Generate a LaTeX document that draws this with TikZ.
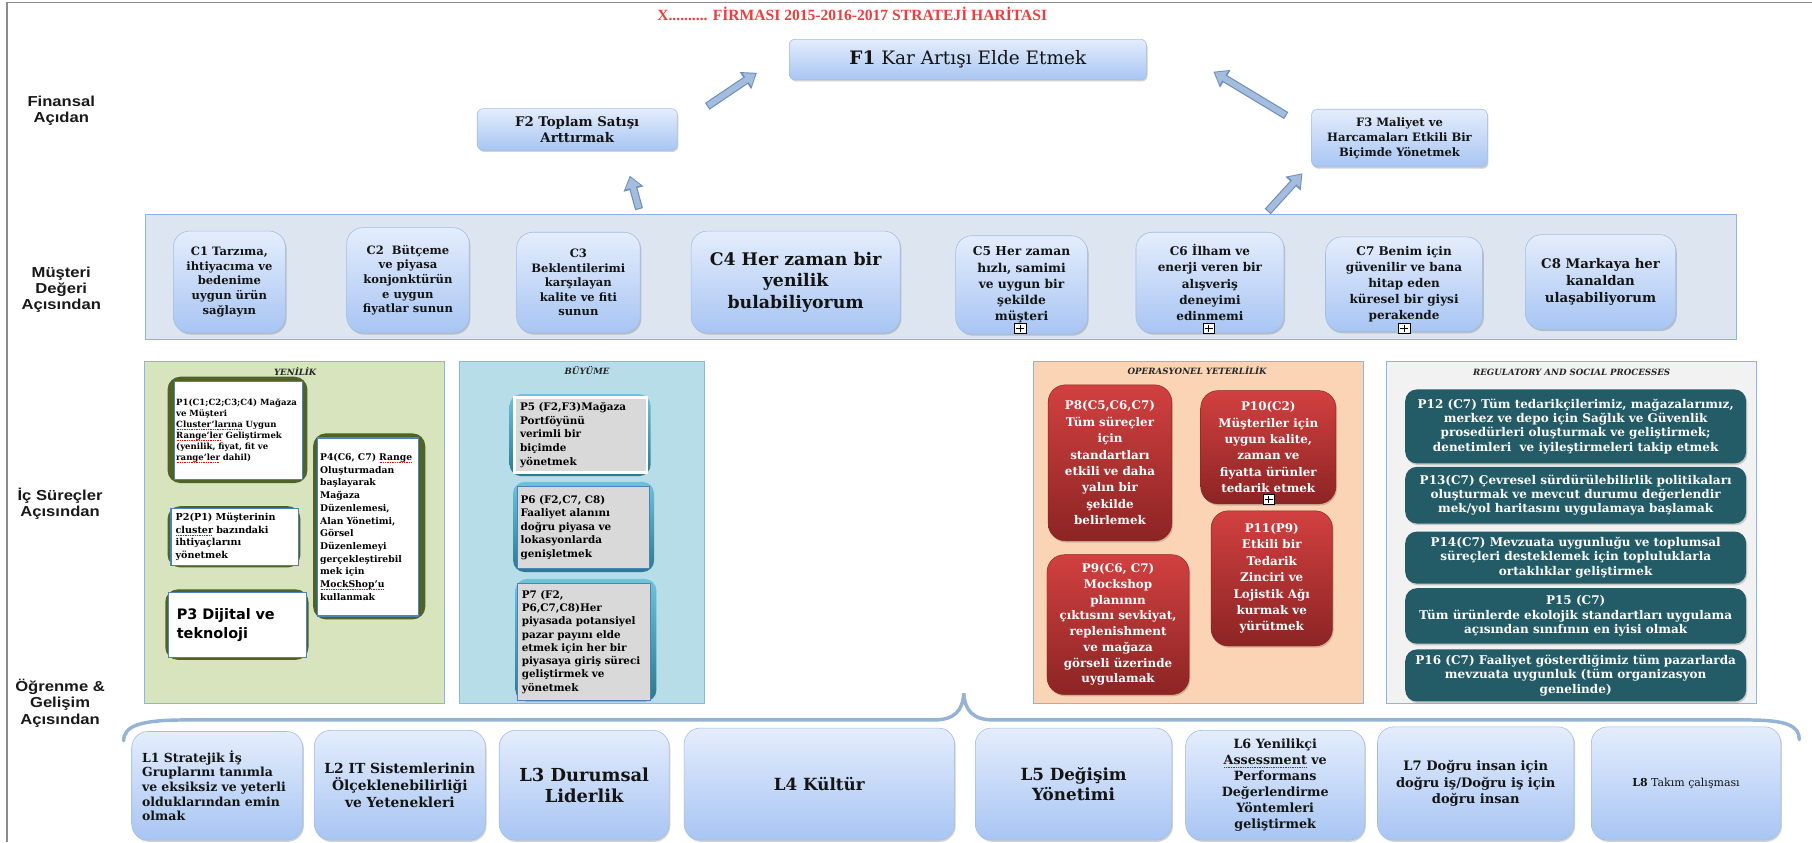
\documentclass[tikz,border=0pt]{standalone}
\usepackage{fontspec}
\setmainfont{DejaVu Serif}
\newfontfamily\labelfont[FakeStretch=1.15]{Liberation Sans}
\newfontfamily\headfont{Liberation Serif}
\newfontfamily\digifont{DejaVu Sans}
\usetikzlibrary{arrows.meta,shadows}

\newcommand\fs[2]{\fontsize{#1}{#2}\selectfont}
% spell-checker style red dotted mark under a word, text keeps its colour
\newcommand\spl[1]{\leavevmode\setbox0=\hbox{#1}\rlap{\lower1.8pt\hbox to \wd0{\color{red}\leaders\hbox to 1.5pt{\hss\vrule width 0.8pt height 0.25pt depth 0.25pt\hss}\hfill}}\box0\relax}

\definecolor{boxtop}{HTML}{E4EDFC}
\definecolor{boxbot}{HTML}{A8C5F3}
\definecolor{boxline}{HTML}{A3BEE3}
\definecolor{custfill}{HTML}{DCE5F0}
\definecolor{panelline}{HTML}{8EB4E3}
\definecolor{yenfill}{HTML}{D7E4BD}
\definecolor{buyfill}{HTML}{B7DEE8}
\definecolor{opfill}{HTML}{FAD4B4}
\definecolor{regfill}{HTML}{F2F2F2}
\definecolor{oliveglow}{HTML}{4F6228}
\definecolor{tealtop}{HTML}{6CC3DA}
\definecolor{tealbot}{HTML}{2A7A8F}
\definecolor{pgray}{HTML}{D9D9D9}
\definecolor{pblue}{HTML}{4F81BD}
\definecolor{redtop}{HTML}{D24040}
\definecolor{redbot}{HTML}{8C2424}
\definecolor{regteal}{HTML}{235B67}
\definecolor{arrowfill}{HTML}{A4BDDD}
\definecolor{arrowline}{HTML}{6C8EBF}
\definecolor{bracecol}{HTML}{95B3D7}
\definecolor{titlered}{HTML}{F03C3C}

\begin{document}
\begin{tikzpicture}[x=1pt,y=-1pt,
  every node/.style={inner sep=0pt, outer sep=0pt},
  lbl/.style={font=\labelfont\bfseries\fs{12.5}{14}, align=center, text=black!90},
  panel/.style={draw=panelline, line width=0.8pt, fill=#1},
  pheader/.style={font=\bfseries\itshape\fs{7.5}{9}, text=black!85},
  softbox/.style={draw=boxline, line width=0.5pt, top color=boxtop, bottom color=boxbot,
    rounded corners=#1, align=center, text=black!92,
    drop shadow={shadow xshift=1pt, shadow yshift=-1.5pt, opacity=0.25, fill=black!70}},
  softbox/.default=12pt,
  redbox/.style={rounded corners=15pt, top color=redtop, bottom color=redbot,
    draw=redbot, line width=0.4pt, align=center, text=white, font=\bfseries\fs{10.3}{14.2},
    drop shadow={shadow xshift=1pt, shadow yshift=-1.5pt, opacity=0.25, fill=black!70}},
  regbox/.style={rounded corners=10pt, fill=regteal, align=center, text=white,
    font=\bfseries\fs{10.4}{12.4},
    drop shadow={shadow xshift=1pt, shadow yshift=-1.5pt, opacity=0.25, fill=black!70}},
  oglow/.style={fill=oliveglow, rounded corners=11pt},
  tglow/.style={top color=tealtop, bottom color=tealbot, rounded corners=10pt},
  yinner/.style={draw=pblue, line width=1pt, fill=white, align=left, text=black},
  binner/.style={draw=pblue, line width=1pt, fill=pgray, align=left, text=black},
  plusmark/.style={draw=black, fill=white, line width=0.6pt, minimum width=10pt, minimum height=9pt,
    path picture={
      \draw[line width=0.7pt] ([xshift=-3.5pt]path picture bounding box.center) -- ([xshift=3.5pt]path picture bounding box.center);
      \draw[line width=0.7pt] ([yshift=-3.2pt]path picture bounding box.center) -- ([yshift=3.2pt]path picture bounding box.center);}},
  arrowbody/.style={draw=arrowline, line width=7pt, -{Triangle[length=12pt,width=17pt]}},
  arrowcore/.style={draw=arrowfill, line width=5pt, shorten <=1pt, shorten >=1.5pt,
    -{Triangle[length=9pt,width=13pt]}},
]
\useasboundingbox (0,0) rectangle (1568,729);
\fill[white] (0,0) rectangle (1568,729);

% page frame
\draw[black!45, line width=1.2pt] (6,729) -- (6,2) -- (1568,2);

% title
\node[font=\headfont\bfseries\fs{13.5}{16}, text=titlered] (title) at (737.5,12)
  {X.......... FİRMASI 2015-2016-2017 STRATEJİ HARİTASI};

% perspective labels
\node[lbl] (lfin) at (53,96) {Finansal\\Açıdan};
\node[lbl] (lmus) at (53,251) {Müşteri\\Değeri\\Açısından};
\node[lbl] (lic)  at (52,436) {İç Süreçler\\Açısından};
\node[lbl] (logr) at (52,608.5) {Öğrenme \&\\Gelişim\\Açısından};

% ---------------- financial perspective
\node[softbox=5pt, minimum width=309pt, minimum height=35pt, font=\fs{16}{19}] (f1) at (837.5,51.5)
  {{\bfseries F1} Kar Artışı Elde Etmek};
\node[softbox=5pt, minimum width=173pt, minimum height=36pt, font=\bfseries\fs{11.5}{14.4}] (f2) at (499.5,112)
  {F2 Toplam Satışı\\Arttırmak};
\node[softbox=5pt, minimum width=152pt, minimum height=50pt, font=\bfseries\fs{10}{13}] (f3) at (1211,119.5)
  {F3 Maliyet ve\\Harcamaları Etkili Bir\\Biçimde Yönetmek};

% ---------------- customer perspective
\node[panel=custfill, minimum width=1377pt, minimum height=108pt] (cpanel) at (814.5,240) {};

\node[softbox=14pt, minimum width=97pt, minimum height=88pt, font=\bfseries\fs{10}{12.6}] (c1) at (198.5,244)
  {C1 Tarzıma,\\ihtiyacıma ve\\bedenime\\uygun ürün\\sağlayın};
\node[softbox=14pt, minimum width=106pt, minimum height=91pt, font=\bfseries\fs{10}{12.6}] (c2) at (353,242.5)
  {C2~~Bütçeme\\ve piyasa\\konjonktürün\\e uygun\\fiyatlar sunun};
\node[softbox=14pt, minimum width=107pt, minimum height=87pt, font=\bfseries\fs{10}{12.6}] (c3) at (500.5,244.5)
  {C3\\Beklentilerimi\\karşılayan\\kalite ve fiti\\sunun};
\node[softbox=14pt, minimum width=181pt, minimum height=88pt, font=\bfseries\fs{15}{18.5}] (c4) at (688.5,244)
  {C4 Her zaman bir\\yenilik\\bulabiliyorum};
\node[softbox=14pt, minimum width=114pt, minimum height=85pt, font=\bfseries\fs{10.6}{14}] (c5) at (884,246.5)
  {C5 Her zaman\\hızlı, samimi\\ve uygun bir\\şekilde\\müşteri};
\node[softbox=14pt, minimum width=128pt, minimum height=87pt, font=\bfseries\fs{10.4}{14}] (c6) at (1047,244.5)
  {C6 İlham ve\\enerji veren bir\\alışveriş\\deneyimi\\edinmemi};
\node[softbox=14pt, minimum width=136pt, minimum height=82pt, font=\bfseries\fs{10.4}{14}] (c7) at (1215,246)
  {C7 Benim için\\güvenilir ve bana\\hitap eden\\küresel bir giysi\\perakende};
\node[softbox=14pt, minimum width=130pt, minimum height=82pt, font=\bfseries\fs{11.5}{15}] (c8) at (1385,244)
  {C8 Markaya her\\kanaldan\\ulaşabiliyorum};

\node[plusmark] (m5) at (883,284) {};
\node[plusmark] (m6) at (1046,284) {};
\node[plusmark] (m7) at (1215,284) {};

% ---------------- arrows between perspectives
\coordinate (af2s) at (612,92);   \coordinate (af2e) at (655,63);
\coordinate (af3s) at (1113,100); \coordinate (af3e) at (1050,62);
\coordinate (ac2s) at (553,181);  \coordinate (ac2e) at (545,152);
\coordinate (ac3s) at (1097,183); \coordinate (ac3e) at (1127,150);
\foreach \s/\e in {af2s/af2e, af3s/af3e, ac2s/ac2e, ac3s/ac3e}{
  \draw[arrowbody] (\s) -- (\e);
  \draw[arrowcore] (\s) -- (\e);
}

% ---------------- internal process panels
\node[panel=yenfill, minimum width=260pt, minimum height=296pt] (pyen) at (255,461) {};
\node[panel=buyfill, minimum width=212pt, minimum height=296pt] (pbuy) at (504,461) {};
\node[panel=opfill,  minimum width=286pt, minimum height=296pt] (pope) at (1037,461) {};
\node[panel=regfill, minimum width=320pt, minimum height=296pt] (preg) at (1360,461) {};

\node[pheader] (hyen) at (255.5,321) {YENİLİK};
\node[pheader] (hbuy) at (508,321) {BÜYÜME};
\node[pheader] (hope) at (1036,320.5) {OPERASYONEL YETERLİLİK};
\node[pheader] (hreg) at (1360,322) {REGULATORY AND SOCIAL PROCESSES};

% innovation
\fill[oglow] (145,326) rectangle (266,418);
\fill[oglow] (145,438) rectangle (260,491);
\fill[oglow] (143,510) rectangle (267,571);
\fill[oglow] (271,375) rectangle (368,536);
\node[yinner, minimum height=85pt, text width=108pt, inner xsep=1.5pt, font=\bfseries\fs{7.4}{9.5}] (p1) at (206.5,372.5)
  {P1(C1;C2;C3;C4) Mağaza\\ve Müşteri\\\spl{Cluster'larına} Uygun\\\spl{Range'ler} Geliştirmek\\(yenilik, fiyat, fit ve\\\spl{range'ler} dahil)};
\node[yinner, minimum height=49pt, text width=102pt, inner xsep=4pt, font=\bfseries\fs{8.3}{10.7}] (p2) at (203,464.5)
  {P2(P1) Müşterinin\\\spl{cluster} bazındaki\\ihtiyaçlarını\\yönetmek};
\node[yinner, minimum height=56pt, text width=105pt, inner xsep=7pt, font=\digifont\bfseries\fs{12.5}{16}] (p3) at (205.5,541)
  {P3 Dijital ve\\teknoloji};
\node[yinner, minimum height=154pt, text width=83pt, inner xsep=2pt, font=\bfseries\fs{8}{11}] (p4) at (318.5,456)
  {P4(C6, C7) \spl{Range}\\Oluşturmadan\\başlayarak\\Mağaza\\Düzenlemesi,\\Alan Yönetimi,\\Görsel\\Düzenlemeyi\\gerçekleştirebil\\mek için\\\spl{MockShop'u}\\kullanmak};

% growth
\shade[tglow] (441,341) rectangle (563,412);
\shade[tglow] (444,417) rectangle (566,495);
\shade[tglow] (446,501) rectangle (568,607);
\node[binner, draw=white, line width=2.2pt, minimum height=65pt, text width=105pt, inner xsep=5pt, font=\bfseries\fs{9}{11.8}] (p5) at (502.5,376.5)
  {P5 (F2,F3)Mağaza\\Portföyünü\\verimli bir\\biçimde\\yönetmek};
\node[binner, minimum height=71pt, text width=109pt, inner xsep=2.5pt, font=\bfseries\fs{9}{11.8}] (p6) at (505,456.5)
  {P6 (F2,C7, C8)\\Faaliyet alanını\\doğru piyasa ve\\lokasyonlarda\\genişletmek};
\node[binner, minimum height=101pt, text width=108pt, inner xsep=3.5pt, font=\bfseries\fs{9}{11.5}] (p7) at (505.5,555.5)
  {P7 (F2,\\P6,C7,C8)Her\\piyasada potansiyel\\pazar payını elde\\etmek için her bir\\piyasaya giriş süreci\\geliştirmek ve\\yönetmek};

% operational excellence
\node[redbox, minimum width=107pt, minimum height=135pt] (p8) at (960.5,400.5)
  {P8(C5,C6,C7)\\Tüm süreçler\\için\\standartları\\etkili ve daha\\yalın bir\\şekilde\\belirlemek};
\node[redbox, minimum width=117pt, minimum height=98pt] (p10) at (1097.5,387)
  {P10(C2)\\Müşteriler için\\uygun kalite,\\zaman ve\\fiyatta ürünler\\tedarik etmek};
\node[redbox, minimum width=105pt, minimum height=117pt] (p11) at (1100.5,500.5)
  {P11(P9)\\Etkili bir\\Tedarik\\Zinciri ve\\Lojistik Ağı\\kurmak ve\\yürütmek};
\node[redbox, minimum width=123pt, minimum height=121pt, font=\bfseries\fs{10.3}{13.6}] (p9) at (967.5,540.5)
  {P9(C6, C7)\\Mockshop\\planının\\çıktısını sevkiyat,\\replenishment\\ve mağaza\\görseli üzerinde\\uygulamak};
\node[plusmark] (m10) at (1098,432) {};

% regulatory and social
\node[regbox, minimum width=295pt, minimum height=64pt] (p12) at (1363.5,369)
  {P12 (C7) Tüm tedarikçilerimiz, mağazalarımız,\\merkez ve depo için Sağlık ve Güvenlik\\prosedürleri oluşturmak ve geliştirmek;\\denetimleri~~ve iyileştirmeleri takip etmek};
\node[regbox, minimum width=295pt, minimum height=49pt] (p13) at (1363.5,428.5)
  {P13(C7) Çevresel sürdürülebilirlik politikaları\\oluşturmak ve mevcut durumu değerlendir\\\spl{mek}/yol haritasını uygulamaya başlamak};
\node[regbox, minimum width=295pt, minimum height=45pt] (p14) at (1363.5,482.5)
  {P14(C7) Mevzuata uygunluğu ve toplumsal\\süreçleri desteklemek için topluluklarla\\ortaklıklar geliştirmek};
\node[regbox, minimum width=295pt, minimum height=48pt] (p15) at (1363.5,533)
  {P15 (C7)\\Tüm ürünlerde ekolojik standartları uygulama\\açısından sınıfının en iyisi olmak};
\node[regbox, minimum width=295pt, minimum height=45pt] (p16) at (1363.5,584.5)
  {P16 (C7) Faaliyet gösterdiğimiz tüm pazarlarda\\mevzuata uygunluk (tüm organizasyon\\genelinde)};

% ---------------- learning & growth
\draw[bracecol, line width=3pt, line cap=round]
  (107,641) .. controls (107,628) and (122,623) .. (160,623) -- (808,623)
  .. controls (826,623) and (833,615) .. (834,600)
  .. controls (835,615) and (842,623) .. (860,623) -- (1512,623)
  .. controls (1546,623) and (1557,628) .. (1557,640);

\node[softbox=14pt, minimum height=94pt, text width=130pt, inner xsep=9pt, align=left, font=\bfseries\fs{10.8}{12.7}] (l1) at (188,680)
  {L1 Stratejik İş\\Gruplarını tanımla\\ve eksiksiz ve yeterli\\olduklarından emin\\olmak};
\node[softbox=14pt, minimum width=148pt, minimum height=95pt, font=\bfseries\fs{12}{14.4}] (l2) at (346,679.5)
  {L2 IT Sistemlerinin\\Ölçeklenebilirliği\\ve Yetenekleri};
\node[softbox=14pt, minimum width=147pt, minimum height=95pt, font=\bfseries\fs{15.5}{17.5}] (l3) at (505.5,679.5)
  {L3 Durumsal\\Liderlik};
\node[softbox=14pt, minimum width=234pt, minimum height=97pt, font=\bfseries\fs{14.5}{17}] (l4) at (709,678.5)
  {L4 Kültür};
\node[softbox=14pt, minimum width=170pt, minimum height=97pt, font=\bfseries\fs{14.5}{17}] (l5) at (929,678.5)
  {L5 Değişim\\Yönetimi};
\node[softbox=14pt, minimum width=155pt, minimum height=95pt, font=\bfseries\fs{11}{13.8}] (l6) at (1103.5,679.5)
  {L6 Yenilikçi\\\spl{Assessment} ve\\Performans\\Değerlendirme\\Yöntemleri\\geliştirmek};
\node[softbox=14pt, minimum width=170pt, minimum height=98pt, font=\bfseries\fs{11.3}{14}] (l7) at (1277,678)
  {L7 Doğru insan için\\doğru iş/Doğru iş için\\doğru insan};
\node[softbox=14pt, minimum width=164pt, minimum height=98pt, font=\fs{9.5}{12}] (l8) at (1459,678)
  {{\bfseries L8} Takım çalışması};

\end{tikzpicture}
\end{document}
